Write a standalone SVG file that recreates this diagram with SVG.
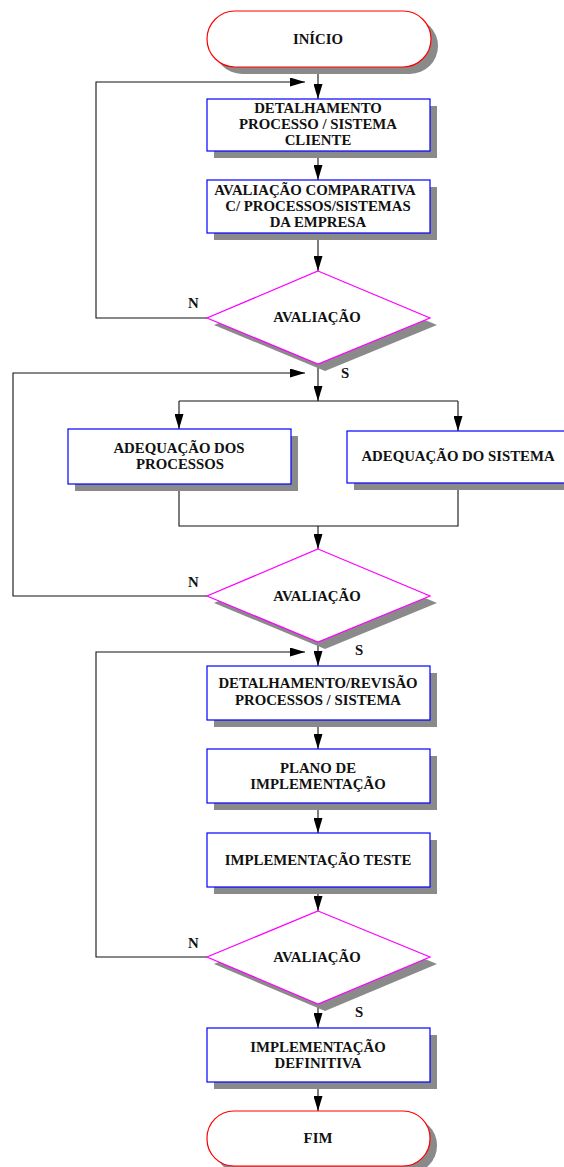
<svg xmlns="http://www.w3.org/2000/svg" width="564" height="1167" viewBox="0 0 564 1167">
<style>
.bg{fill:#ffffff}
.sh{fill:#8a8a8a;stroke:none}
.term{fill:#ffffff;stroke:#ff0000;stroke-width:1.2}
.box{fill:#ffffff;stroke:#0000ff;stroke-width:1.2}
.dia{fill:#ffffff;stroke:#ff00ff;stroke-width:1.2}
text{font-family:'Liberation Serif','DejaVu Serif',serif;font-weight:bold;font-size:14.8px;fill:#111111}
.t{text-anchor:middle}
.ln{fill:none;stroke:#111111;stroke-width:1.1}
.arr{marker-end:url(#ah)}
</style>
<defs>
<marker id="ah" markerUnits="userSpaceOnUse" markerWidth="15" markerHeight="9" refX="15" refY="4.5" orient="auto">
<path d="M0,0 L15,4.5 L0,9 Z" fill="#000000"/>
</marker>
</defs>
<rect class="bg" x="0" y="0" width="564" height="1167"/>

<g id="connectors">
<line class="ln arr" x1="318" y1="67" x2="318" y2="99"/>
<line class="ln arr" x1="318" y1="151" x2="318" y2="180"/>
<line class="ln arr" x1="318" y1="233" x2="318" y2="271"/>
<polyline class="ln arr" points="207,318 96,318 96,82 305,82"/>
<line class="ln arr" x1="318" y1="364" x2="318" y2="401"/>
<polyline class="ln" points="179,401 458,401"/>
<line class="ln arr" x1="179" y1="401" x2="179" y2="429"/>
<line class="ln arr" x1="458" y1="401" x2="458" y2="431"/>
<polyline class="ln" points="179,484 179,526 458,526 458,483"/>
<line class="ln arr" x1="318" y1="526" x2="318" y2="549"/>
<polyline class="ln arr" points="207,596 13,596 13,373 305,373"/>
<line class="ln arr" x1="318" y1="642" x2="318" y2="666"/>
<line class="ln arr" x1="318" y1="720" x2="318" y2="749"/>
<line class="ln arr" x1="318" y1="803" x2="318" y2="833"/>
<line class="ln arr" x1="318" y1="887" x2="318" y2="911"/>
<polyline class="ln arr" points="207,957 96,957 96,652 305,652"/>
<line class="ln arr" x1="318" y1="1004" x2="318" y2="1028"/>
<line class="ln arr" x1="318" y1="1082" x2="318" y2="1111"/>
<text x="188" y="308" font-family="Liberation Serif, DejaVu Serif, serif">N</text>
<text x="341" y="378" font-family="Liberation Serif, DejaVu Serif, serif">S</text>
<text x="188" y="587" font-family="Liberation Serif, DejaVu Serif, serif">N</text>
<text x="355" y="655" font-family="Liberation Serif, DejaVu Serif, serif">S</text>
<text x="188" y="948" font-family="Liberation Serif, DejaVu Serif, serif">N</text>
<text x="355" y="1017" font-family="Liberation Serif, DejaVu Serif, serif">S</text>
</g>

<g id="inicio">
<rect class="sh" x="214" y="18" width="224" height="56" rx="28"/>
<rect class="term" x="207" y="11" width="224" height="56" rx="28"/>
<text class="t" x="318" y="44">INÍCIO</text>
</g>

<g id="detalhamento">
<rect class="sh" x="214" y="106" width="223" height="52"/>
<rect class="box" x="207" y="99" width="223" height="52"/>
<text class="t" x="318" y="113">DETALHAMENTO</text>
<text class="t" x="318" y="129">PROCESSO / SISTEMA</text>
<text class="t" x="318" y="145">CLIENTE</text>
</g>

<g id="avaliacao-comparativa">
<rect class="sh" x="214" y="187" width="223" height="53"/>
<rect class="box" x="207" y="180" width="223" height="53"/>
<text class="t" x="315" y="195">AVALIAÇÃO COMPARATIVA</text>
<text class="t" x="318" y="211">C/ PROCESSOS/SISTEMAS</text>
<text class="t" x="318" y="227">DA EMPRESA</text>
</g>

<g id="avaliacao1">
<polygon class="sh" points="325,278 437,325 325,371 214,325"/>
<polygon class="dia" points="318,271 430,318 318,364 207,318"/>
<text class="t" x="317" y="322">AVALIAÇÃO</text>
</g>

<g id="adequacao-processos">
<rect class="sh" x="75" y="436" width="223" height="55"/>
<rect class="box" x="68" y="429" width="223" height="55"/>
<text class="t" x="179" y="453">ADEQUAÇÃO DOS</text>
<text class="t" x="180" y="469">PROCESSOS</text>
</g>

<g id="adequacao-sistema">
<rect class="sh" x="354" y="438" width="222" height="52"/>
<rect class="box" x="347" y="431" width="222" height="52"/>
<text class="t" x="458" y="461">ADEQUAÇÃO DO SISTEMA</text>
</g>

<g id="avaliacao2">
<polygon class="sh" points="325,556 437,603 325,649 214,603"/>
<polygon class="dia" points="318,549 430,596 318,642 207,596"/>
<text class="t" x="317" y="601">AVALIAÇÃO</text>
</g>

<g id="detalhamento-revisao">
<rect class="sh" x="214" y="673" width="223" height="54"/>
<rect class="box" x="207" y="666" width="223" height="54"/>
<text class="t" x="318" y="688">DETALHAMENTO/REVISÃO</text>
<text class="t" x="318" y="705">PROCESSOS / SISTEMA</text>
</g>

<g id="plano">
<rect class="sh" x="214" y="756" width="223" height="54"/>
<rect class="box" x="207" y="749" width="223" height="54"/>
<text class="t" x="318" y="773">PLANO DE</text>
<text class="t" x="318" y="789">IMPLEMENTAÇÃO</text>
</g>

<g id="implementacao-teste">
<rect class="sh" x="214" y="840" width="223" height="54"/>
<rect class="box" x="207" y="833" width="223" height="54"/>
<text class="t" x="318" y="865">IMPLEMENTAÇÃO TESTE</text>
</g>

<g id="avaliacao3">
<polygon class="sh" points="325,918 437,964 325,1011 214,964"/>
<polygon class="dia" points="318,911 430,957 318,1004 207,957"/>
<text class="t" x="317" y="962">AVALIAÇÃO</text>
</g>

<g id="implementacao-definitiva">
<rect class="sh" x="214" y="1035" width="223" height="54"/>
<rect class="box" x="207" y="1028" width="223" height="54"/>
<text class="t" x="318" y="1052">IMPLEMENTAÇÃO</text>
<text class="t" x="318" y="1068">DEFINITIVA</text>
</g>

<g id="fim">
<rect class="sh" x="214" y="1118" width="223" height="55" rx="27"/>
<rect class="term" x="207" y="1111" width="223" height="55" rx="27"/>
<text class="t" x="318" y="1143">FIM</text>
</g>
</svg>
